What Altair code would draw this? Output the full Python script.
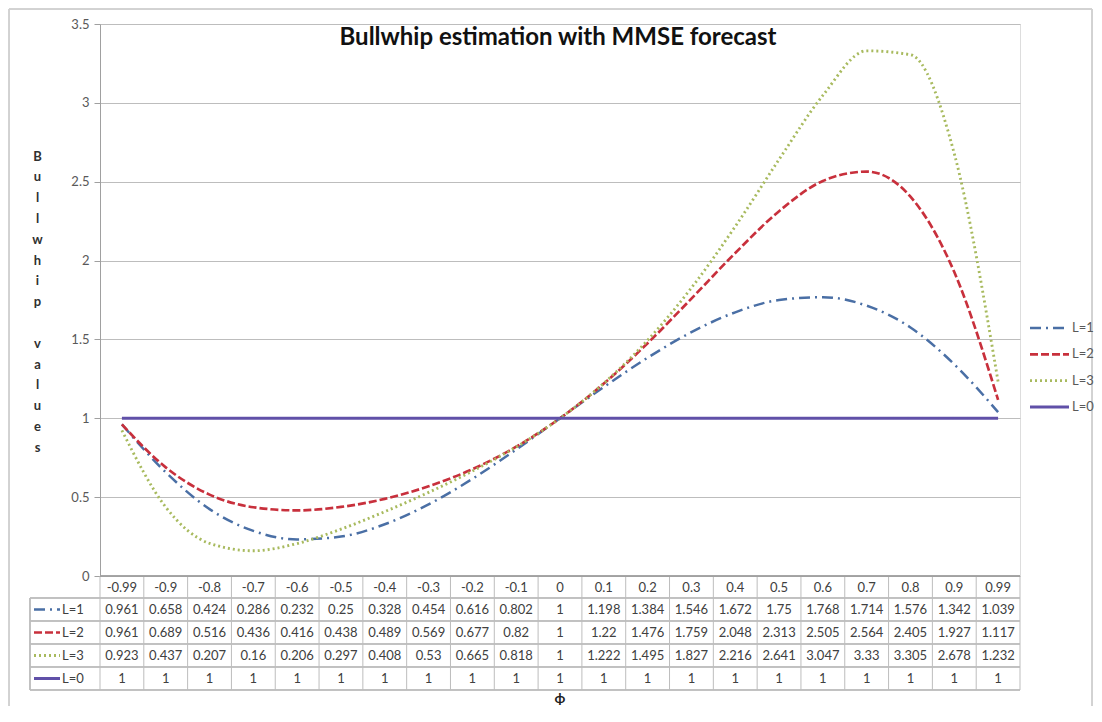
import altair as alt
import pandas as pd

phi = ["-0.99", "-0.9", "-0.8", "-0.7", "-0.6", "-0.5", "-0.4", "-0.3", "-0.2", "-0.1", "0",
       "0.1", "0.2", "0.3", "0.4", "0.5", "0.6", "0.7", "0.8", "0.9", "0.99"]
L1 = [0.961, 0.658, 0.424, 0.286, 0.232, 0.25, 0.328, 0.454, 0.616, 0.802, 1,
      1.198, 1.384, 1.546, 1.672, 1.75, 1.768, 1.714, 1.576, 1.342, 1.039]
L2 = [0.961, 0.689, 0.516, 0.436, 0.416, 0.438, 0.489, 0.569, 0.677, 0.82, 1,
      1.22, 1.476, 1.759, 2.048, 2.313, 2.505, 2.564, 2.405, 1.927, 1.117]
L3 = [0.923, 0.437, 0.207, 0.16, 0.206, 0.297, 0.408, 0.53, 0.665, 0.818, 1,
      1.222, 1.495, 1.827, 2.216, 2.641, 3.047, 3.33, 3.305, 2.678, 1.232]
L0 = [1, 1, 1, 1, 1, 1, 1, 1, 1, 1, 1, 1, 1, 1, 1, 1, 1, 1, 1, 1, 1]
series = ["L=1", "L=2", "L=3", "L=0"]
series_values = [L1, L2, L3, L0]
y_ticks = [0, 0.5, 1, 1.5, 2, 2.5, 3, 3.5]

colors = ["#4a6fa5", "#c8303c", "#a8ba5e", "#6050a8"]
dashes = [[11, 5, 2, 5], [8, 3], [2, 3], [1, 0]]
widths = [2.5, 3, 2.5, 2.5]

W, H = 920, 552
ROW = 23
FONT = "Lato"
GRID = "#bdbdbd"
TXT = "#404040"

rows = []
for s, vals in zip(series, series_values):
    for i, (p, v) in enumerate(zip(phi, vals)):
        rows.append({"i": i, "phi": p, "series": s, "value": v, "label": f"{v:g}"})
df = pd.DataFrame(rows)
hdr = pd.DataFrame({"i": list(range(len(phi))), "phi": phi})
edges = pd.DataFrame({"e": [k - 0.5 for k in range(len(phi) + 1)]})
leg = pd.DataFrame({"series": series})

xs = alt.Scale(domain=[-0.5, len(phi) - 0.5], nice=False, zero=False)
X = alt.X("i:Q", scale=xs, axis=None)

color = alt.Color("series:N", scale=alt.Scale(domain=series, range=colors), legend=None)
dash = alt.StrokeDash("series:N", scale=alt.Scale(domain=series, range=dashes), legend=None)
sw = alt.StrokeWidth("series:N", scale=alt.Scale(domain=series, range=widths), legend=None)

title_lines = ["B", "u", "l", "l", "w", "h", "i", "p", "\u2800", "v", "a", "l", "u", "e", "s"]

yaxis = alt.Axis(values=y_ticks, format="~g", grid=True, gridColor=GRID, gridWidth=1,
                 domainColor="#a0a0a0", tickColor="#a0a0a0", tickSize=6,
                 labelFontSize=13, labelColor="#595959", labelPadding=5, labelFont=FONT,
                 title=title_lines, titleAngle=0, titleX=-63, titleY=126,
                 titleAlign="center", titleBaseline="top", titleLineHeight=20.8,
                 titleFontSize=13, titleFontWeight="bold", titleFont=FONT, titleColor="#303030")

lines = alt.Chart(df).mark_line(interpolate="monotone").encode(
    x=X,
    y=alt.Y("value:Q", scale=alt.Scale(domain=[0, 3.5], nice=False, zero=True), axis=yaxis),
    color=color, strokeDash=dash, strokeWidth=sw,
    order=alt.Order("i:Q"),
)

layers = []

# outer frame
layers.append(alt.Chart(leg).mark_rect(fill=None, stroke="#d0d0d0", strokeWidth=1).encode(
    x=alt.value(-91), x2=alt.value(W + 72), y=alt.value(-15), y2=alt.value(687)))

layers.append(lines)

# table vertical borders
layers.append(alt.Chart(edges).mark_rule(color=GRID, strokeWidth=1).encode(
    x=alt.X("e:Q", scale=xs, axis=None), y=alt.value(H), y2=alt.value(H + 5 * ROW - 1)))
layers.append(alt.Chart(leg).mark_rule(color=GRID, strokeWidth=1).encode(
    x=alt.value(-70), y=alt.value(H + ROW - 1), y2=alt.value(H + 5 * ROW - 1)))
# table horizontal borders
layers.append(alt.Chart(leg).mark_rule(color="#a0a0a0", strokeWidth=1).encode(
    x=alt.value(0), x2=alt.value(W), y=alt.value(H)))
for k in range(1, 6):
    layers.append(alt.Chart(leg).mark_rule(color=GRID, strokeWidth=1).encode(
        x=alt.value(-70), x2=alt.value(W), y=alt.value(H + k * ROW - 1)))

# header row
layers.append(alt.Chart(hdr).mark_text(fontSize=13, font=FONT, color=TXT, baseline="middle").encode(
    x=X, y=alt.value(H + ROW / 2), text="phi:N"))

# data rows
for r, s in enumerate(series):
    yrow = H + (r + 1) * ROW + ROW / 2 - 1
    layers.append(alt.Chart(df[df["series"] == s]).mark_text(
        fontSize=13, font=FONT, color=TXT, baseline="middle").encode(
        x=X, y=alt.value(yrow), text="label:N"))
    sub = leg[leg["series"] == s]
    layers.append(alt.Chart(sub).mark_rule().encode(
        x=alt.value(-66), x2=alt.value(-40), y=alt.value(yrow),
        color=color, strokeDash=dash, strokeWidth=sw))
    layers.append(alt.Chart(sub).mark_text(fontSize=13, font=FONT, color=TXT, align="left",
                                           baseline="middle").encode(
        x=alt.value(-38), y=alt.value(yrow), text="series:N"))
    # right legend
    ly = 304 + r * 26.3
    layers.append(alt.Chart(sub).mark_rule().encode(
        x=alt.value(930), x2=alt.value(969), y=alt.value(ly),
        color=color, strokeDash=dash, strokeWidth=sw))
    layers.append(alt.Chart(sub).mark_text(fontSize=13, font=FONT, color="#595959", align="left",
                                           baseline="middle").encode(
        x=alt.value(972), y=alt.value(ly), text="series:N"))

# chart title and x-axis title
layers.append(alt.Chart(pd.DataFrame({"t": ["Bullwhip estimation with MMSE forecast"]})).mark_text(
    fontSize=24, font=FONT, fontWeight="bold", color="#111111", align="center", baseline="middle").encode(
    x=alt.value(W / 2 - 2), y=alt.value(14), text="t:N"))
layers.append(alt.Chart(pd.DataFrame({"t": ["ϕ"]})).mark_text(
    fontSize=14, font=FONT, fontWeight="bold", color="#202020", align="center", baseline="middle").encode(
    x=alt.value(W / 2), y=alt.value(675), text="t:N"))

chart = alt.layer(*layers).properties(
    width=W, height=H,
    padding={"left": 92, "top": 16, "right": 74, "bottom": 130},
    autosize=alt.AutoSizeParams(type="none"),
).configure_view(stroke=None).configure(font=FONT, background="white")

chart.save("out.html", embed_options={"renderer": "svg", "actions": False})
